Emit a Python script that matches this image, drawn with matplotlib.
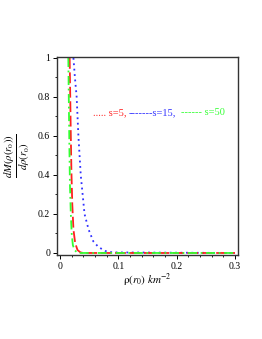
import numpy as np
import matplotlib
matplotlib.use("Agg")
import matplotlib.pyplot as plt
from matplotlib.ticker import MultipleLocator

plt.rcParams['font.family'] = ['Liberation Serif', 'DejaVu Serif']
plt.rcParams['mathtext.fontset'] = 'stix'

# values
rho_s5 = [0.0165, 0.0175, 0.0185, 0.0195, 0.021, 0.023, 0.026, 0.030, 0.035, 0.04, 0.3]
dm_s5 = [1.0, 0.8, 0.6, 0.42, 0.25, 0.12, 0.05, 0.015, 0.003, 0.0, 0.0]

rho_s15 = [0.023, 0.0255, 0.0285, 0.0315, 0.0355, 0.042, 0.049, 0.057, 0.066, 0.078, 0.09, 0.3]
dm_s15 = [1.0, 0.9, 0.8, 0.6, 0.4, 0.2, 0.12, 0.06, 0.03, 0.01, 0.003, 0.0]

rho_s50 = [0.0142, 0.015, 0.016, 0.017, 0.0185, 0.020, 0.022, 0.025, 0.029, 0.033, 0.3]
dm_s50 = [1.0, 0.8, 0.55, 0.35, 0.2, 0.1, 0.04, 0.015, 0.003, 0.0, 0.0]

legend_labels = ['..... s=5,', '-------s=15,', '------ s=50']
legend_colors = ['#ff2020', '#3030ff', '#33ff33']
legend_x = [0.056, 0.118, 0.208]

fig = plt.figure(figsize=(2.62, 3.39), dpi=100)
ax = fig.add_axes([0.218, 0.248, 0.69, 0.584])

ax.plot(rho_s15, dm_s15, color='#3030ff', linestyle=(0, (1, 2)), linewidth=1.3)
ax.plot(rho_s5, dm_s5, color='#ff2020', linestyle=(0, (6, 2)), linewidth=1.3)
ax.plot(rho_s50, dm_s50, color='#33ff33', linestyle=(0, (5, 2, 1, 2)), linewidth=1.3)

ax.set_xlim(-0.005, 0.305)
ax.set_ylim(-0.01, 1.005)
ax.xaxis.set_major_locator(MultipleLocator(0.1))
ax.xaxis.set_minor_locator(MultipleLocator(0.02))
ax.yaxis.set_major_locator(MultipleLocator(0.2))
ax.yaxis.set_minor_locator(MultipleLocator(0.1))
fmt = plt.FuncFormatter(lambda v, p: '0' if abs(v) < 1e-9 else f'{v:g}')
ax.xaxis.set_major_formatter(fmt)
ax.yaxis.set_major_formatter(fmt)
ax.tick_params(labelsize=7, length=3, width=0.7, pad=2)
ax.tick_params(which='minor', length=1.5, width=0.6)
for sp in ax.spines.values():
    sp.set_linewidth(1.0)
    sp.set_color('#333333')

for lab, col, x in zip(legend_labels, legend_colors, legend_x):
    ax.text(x, 0.72, lab, color=col, fontsize=7.5, va='center')

ax.set_xlabel(r'$\mathrm{\rho}(r_0)\ \mathbf{\mathit{km}}^{-2}$', fontsize=8, labelpad=1)
ax.set_ylabel(r'$\frac{dM(\rho(r_0))}{d\rho(r_0)}$', fontsize=11, labelpad=4)

fig.savefig('out.png', dpi=100)
